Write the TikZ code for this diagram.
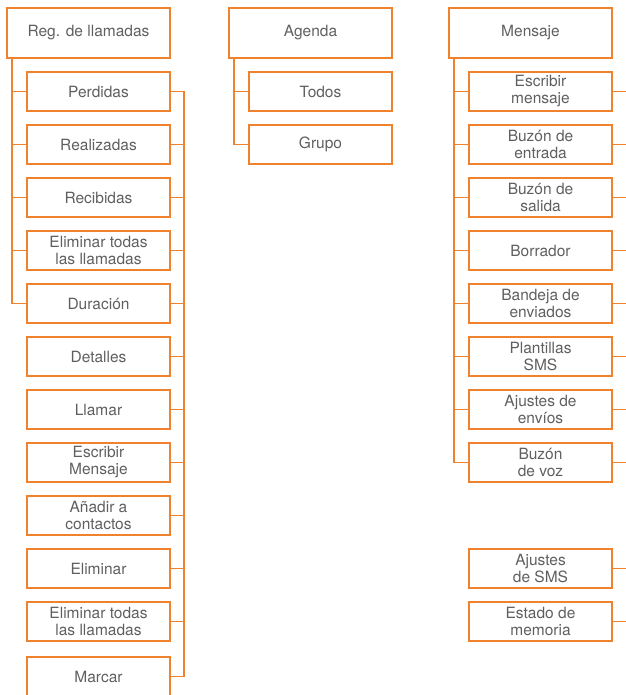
\documentclass[tikz,border=0pt]{standalone}
\usepackage{fontspec}
\setmainfont{TeX Gyre Heros}
\definecolor{menuorange}{RGB}{240,130,45}
\definecolor{menutext}{RGB}{95,95,95}
\tikzset{
	menuhead/.style={draw=menuorange, line width=1.6pt, inner sep=0pt, outer sep=0pt,
		minimum width=163pt, minimum height=50pt, text=menutext, align=center,
		font=\fontsize{15.5}{17}\selectfont},
	menuitem/.style={menuhead, minimum width=143pt, minimum height=39pt},
	link/.style={draw=menuorange, line width=1.6pt}
}
\begin{document}
\begin{tikzpicture}[x=1pt, y=-1pt]
	\useasboundingbox (0,0) rectangle (625,695);
	% Reg. de llamadas
	\node[menuhead] (reg) at (88.5,33) {Reg. de llamadas};
	\node[menuitem] (perdidas) at (98.5,91.5) {Perdidas};
	\node[menuitem] (realizadas) at (98.5,144.5) {Realizadas};
	\node[menuitem] (recibidas) at (98.5,197.5) {Recibidas};
	\node[menuitem] (eliminartodas) at (98.5,250.5) {Eliminar todas\\las llamadas};
	\node[menuitem] (duracion) at (98.5,303.5) {Duración};
	\node[menuitem] (detalles) at (98.5,356.5) {Detalles};
	\node[menuitem] (llamar) at (98.5,409.5) {Llamar};
	\node[menuitem] (escribirmsj) at (98.5,462.5) {Escribir\\Mensaje};
	\node[menuitem] (anadir) at (98.5,515.5) {Añadir a\\contactos};
	\node[menuitem] (eliminar) at (98.5,568.5) {Eliminar};
	\node[menuitem] (eliminartodasb) at (98.5,621.5) {Eliminar todas\\las llamadas};
	\node[menuitem] (marcar) at (98.5,676.5) {Marcar};
	% Agenda
	\node[menuhead] (agenda) at (310.5,33) {Agenda};
	\node[menuitem] (todos) at (320.5,91.5) {Todos};
	\node[menuitem] (grupo) at (320.5,144.5) {Grupo};
	% Mensaje
	\node[menuhead] (mensaje) at (530.5,33) {Mensaje};
	\node[menuitem] (escribir) at (540.5,91.5) {Escribir\\mensaje};
	\node[menuitem] (entrada) at (540.5,144.5) {Buzón de\\entrada};
	\node[menuitem] (salida) at (540.5,197.5) {Buzón de\\salida};
	\node[menuitem] (borrador) at (540.5,250.5) {Borrador};
	\node[menuitem] (enviados) at (540.5,303.5) {Bandeja de\\enviados};
	\node[menuitem] (plantillas) at (540.5,356.5) {Plantillas\\SMS};
	\node[menuitem] (ajenvios) at (540.5,409.5) {Ajustes de\\envíos};
	\node[menuitem] (voz) at (540.5,462.5) {Buzón\\de voz};
	\node[menuitem] (ajsms) at (540.5,568.5) {Ajustes\\de SMS};
	\node[menuitem] (memoria) at (540.5,621.5) {Estado de\\memoria};

	% tree lines on the left
	\draw[link] ([xshift=5pt]reg.south west) |- (perdidas.west);
	\draw[link] ([xshift=5pt]reg.south west) |- (realizadas.west);
	\draw[link] ([xshift=5pt]reg.south west) |- (recibidas.west);
	\draw[link] ([xshift=5pt]reg.south west) |- (eliminartodas.west);
	\draw[link] ([xshift=5pt]reg.south west) |- (duracion.west);
	\draw[link] ([xshift=5pt]agenda.south west) |- (todos.west);
	\draw[link] ([xshift=5pt]agenda.south west) |- (grupo.west);
	\draw[link] ([xshift=5pt]mensaje.south west) |- (escribir.west);
	\draw[link] ([xshift=5pt]mensaje.south west) |- (entrada.west);
	\draw[link] ([xshift=5pt]mensaje.south west) |- (salida.west);
	\draw[link] ([xshift=5pt]mensaje.south west) |- (borrador.west);
	\draw[link] ([xshift=5pt]mensaje.south west) |- (enviados.west);
	\draw[link] ([xshift=5pt]mensaje.south west) |- (plantillas.west);
	\draw[link] ([xshift=5pt]mensaje.south west) |- (ajenvios.west);
	\draw[link] ([xshift=5pt]mensaje.south west) |- (voz.west);

	% bracket on the right of the call options
	\coordinate (llbar) at ([xshift=14pt]perdidas.east);
	\draw[link] (perdidas.east) -- (llbar) |- (marcar.east);
	\draw[link] (realizadas.east) -- (realizadas.east -| llbar);
	\draw[link] (recibidas.east) -- (recibidas.east -| llbar);
	\draw[link] (eliminartodas.east) -- (eliminartodas.east -| llbar);
	\draw[link] (duracion.east) -- (duracion.east -| llbar);
	\draw[link] (detalles.east) -- (detalles.east -| llbar);
	\draw[link] (llamar.east) -- (llamar.east -| llbar);
	\draw[link] (escribirmsj.east) -- (escribirmsj.east -| llbar);
	\draw[link] (anadir.east) -- (anadir.east -| llbar);
	\draw[link] (eliminar.east) -- (eliminar.east -| llbar);
	\draw[link] (eliminartodasb.east) -- (eliminartodasb.east -| llbar);

	% stubs to the page edge
	\coordinate (edge) at (626,0);
	\draw[link] (escribir.east) -- (escribir.east -| edge);
	\draw[link] (entrada.east) -- (entrada.east -| edge);
	\draw[link] (salida.east) -- (salida.east -| edge);
	\draw[link] (borrador.east) -- (borrador.east -| edge);
	\draw[link] (enviados.east) -- (enviados.east -| edge);
	\draw[link] (plantillas.east) -- (plantillas.east -| edge);
	\draw[link] (ajenvios.east) -- (ajenvios.east -| edge);
	\draw[link] (voz.east) -- (voz.east -| edge);
	\draw[link] (ajsms.east) -- (ajsms.east -| edge);
	\draw[link] (memoria.east) -- (memoria.east -| edge);
\end{tikzpicture}
\end{document}
